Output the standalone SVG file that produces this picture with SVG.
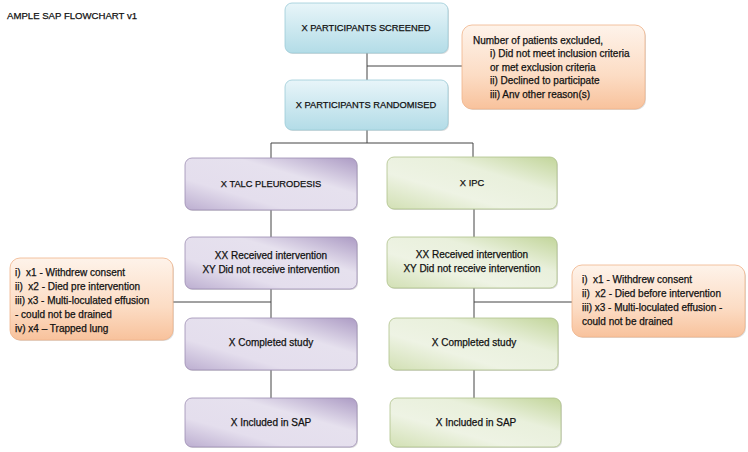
<svg xmlns="http://www.w3.org/2000/svg" width="748" height="452" viewBox="0 0 748 452">
<defs>
<linearGradient id="gBlue" x1="0" y1="0" x2="0" y2="1">
<stop offset="0" stop-color="#e8f5f9"/><stop offset="1" stop-color="#b3dce7"/>
</linearGradient>
<linearGradient id="gPurple" x1="0" y1="1" x2="1" y2="0">
<stop offset="0" stop-color="#bcaed0"/><stop offset="0.3" stop-color="#e4deed"/><stop offset="0.65" stop-color="#e6e1ee"/><stop offset="1" stop-color="#ac9bc4"/>
</linearGradient>
<linearGradient id="gGreen" x1="0" y1="1" x2="1" y2="0">
<stop offset="0" stop-color="#d2e0b4"/><stop offset="0.35" stop-color="#eef3e4"/><stop offset="0.65" stop-color="#e9f0dc"/><stop offset="1" stop-color="#c2d59a"/>
</linearGradient>
<linearGradient id="gOrange" x1="0" y1="0" x2="0" y2="1">
<stop offset="0" stop-color="#fef3ea"/><stop offset="0.6" stop-color="#fcdcc4"/><stop offset="1" stop-color="#f8c29c"/>
</linearGradient>
<style>
.box{stroke-width:0.8}
.blue{fill:url(#gBlue);stroke:#9ccbd8}
.purple{fill:url(#gPurple);stroke:#9d8db3}
.green{fill:url(#gGreen);stroke:#aec18a}
.orange{fill:url(#gOrange);stroke:#f0b48a}
.shadow{fill:#9a9a9a;opacity:0.35}
.t{font-family:"Liberation Sans",Arial,sans-serif;font-size:10px;fill:#111;stroke:#111;stroke-width:0.25}
.c{text-anchor:middle}
.cap{font-size:9.3px}
.conn{stroke:#444;stroke-width:1;fill:none}
</style>
</defs>
<text class="t" x="7" y="19" style="font-size:9.6px">AMPLE SAP FLOWCHART v1</text>
<g id="connectors">
<path class="conn" d="M367 53V80M367 66H462M367 130V143M271 143H473M271 143V158M473 143V157"/>
<path class="conn" d="M271 210V237M271 289V318M271 370V398M173 302H271"/>
<path class="conn" d="M474 209V237M474 288V318M474 370V398M474 302H572"/>
</g>
<g id="screened">
<rect class="shadow" x="286" y="4" width="163" height="50" rx="7"/>
<rect class="box blue" x="285" y="3" width="163" height="50" rx="7"/>
<text class="t c cap" x="366" y="31">X PARTICIPANTS SCREENED</text>
</g>
<g id="randomised">
<rect class="shadow" x="286" y="81" width="163" height="50" rx="7"/>
<rect class="box blue" x="285" y="80" width="163" height="50" rx="7"/>
<text class="t c cap" x="366" y="108">X PARTICIPANTS RANDOMISED</text>
</g>
<g id="excluded">
<rect class="shadow" x="463" y="26" width="183" height="84" rx="10"/>
<rect class="box orange" x="462" y="25" width="183" height="84" rx="10"/>
<text class="t" x="473" y="44">Number of patients excluded,</text>
<text class="t" x="490" y="57">i) Did not meet inclusion criteria</text>
<text class="t" x="490" y="70.5">or met exclusion criteria</text>
<text class="t" x="490" y="84">ii) Declined to participate</text>
<text class="t" x="490" y="97.5">iii) Anv other reason(s)</text>
</g>
<g id="talc">
<rect class="shadow" x="186" y="159" width="172" height="52" rx="7"/>
<rect class="box purple" x="185" y="158" width="172" height="52" rx="7"/>
<text class="t c cap" x="271" y="187">X TALC PLEURODESIS</text>
</g>
<g id="ipc">
<rect class="shadow" x="388" y="158" width="170" height="52" rx="7"/>
<rect class="box green" x="387" y="157" width="170" height="52" rx="7"/>
<text class="t c cap" x="472" y="186">X IPC</text>
</g>
<g id="talc-received">
<rect class="shadow" x="186" y="238" width="172" height="52" rx="7"/>
<rect class="box purple" x="185" y="237" width="172" height="52" rx="7"/>
<text class="t c" x="271" y="259">XX Received intervention</text>
<text class="t c" x="271" y="273">XY Did not receive intervention</text>
</g>
<g id="ipc-received">
<rect class="shadow" x="388" y="238" width="170" height="51" rx="7"/>
<rect class="box green" x="387" y="237" width="170" height="51" rx="7"/>
<text class="t c" x="472" y="258">XX Received intervention</text>
<text class="t c" x="472" y="272">XY Did not receive intervention</text>
</g>
<g id="talc-withdrawn">
<rect class="shadow" x="11" y="259" width="163" height="82" rx="10"/>
<rect class="box orange" x="10" y="258" width="163" height="82" rx="10"/>
<text class="t" x="15" y="276">i)&#160;&#160;x1 - Withdrew consent</text>
<text class="t" x="15" y="290">ii)&#160;&#160;x2 - Died pre intervention</text>
<text class="t" x="15" y="304">iii) x3 - Multi-loculated effusion</text>
<text class="t" x="15" y="318">- could not be drained</text>
<text class="t" x="15" y="332">iv) x4 – Trapped lung</text>
</g>
<g id="ipc-withdrawn">
<rect class="shadow" x="573" y="266" width="173" height="72" rx="10"/>
<rect class="box orange" x="572" y="265" width="173" height="72" rx="10"/>
<text class="t" x="582" y="283">i)&#160;&#160;x1 - Withdrew consent</text>
<text class="t" x="582" y="297">ii)&#160;&#160;x2 - Died before intervention</text>
<text class="t" x="582" y="311">iii) x3 - Multi-loculated effusion -</text>
<text class="t" x="582" y="325">could not be drained</text>
</g>
<g id="talc-completed">
<rect class="shadow" x="186" y="319" width="172" height="52" rx="7"/>
<rect class="box purple" x="185" y="318" width="172" height="52" rx="7"/>
<text class="t c" x="271" y="346">X Completed study</text>
</g>
<g id="ipc-completed">
<rect class="shadow" x="390" y="319" width="169" height="52" rx="7"/>
<rect class="box green" x="389" y="318" width="169" height="52" rx="7"/>
<text class="t c" x="474" y="346">X Completed study</text>
</g>
<g id="talc-sap">
<rect class="shadow" x="186" y="399" width="172" height="49" rx="7"/>
<rect class="box purple" x="185" y="398" width="172" height="49" rx="7"/>
<text class="t c" x="271" y="426">X Included in SAP</text>
</g>
<g id="ipc-sap">
<rect class="shadow" x="391" y="399" width="171" height="49" rx="7"/>
<rect class="box green" x="390" y="398" width="171" height="49" rx="7"/>
<text class="t c" x="476" y="426">X Included in SAP</text>
</g>
</svg>
